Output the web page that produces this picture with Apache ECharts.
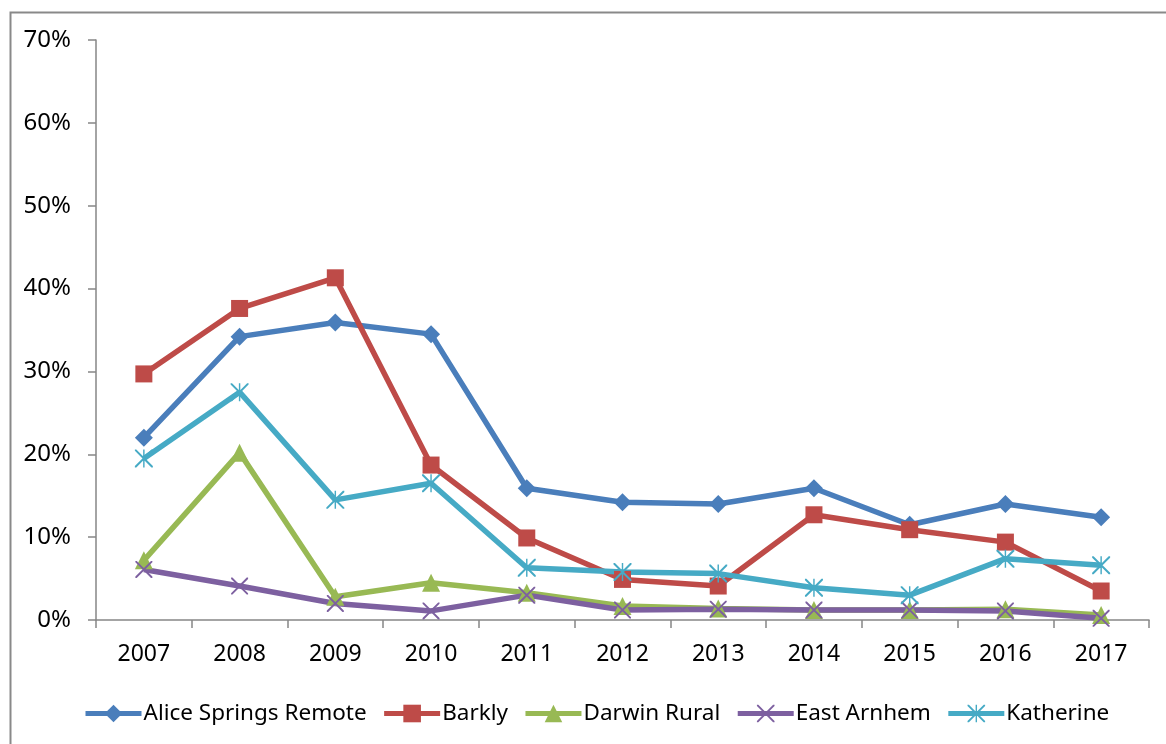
<!DOCTYPE html>
<html>
<head>
<meta charset="utf-8">
<script src="https://cdn.jsdelivr.net/npm/echarts@6/dist/echarts.min.js"></script>
<style>
html,body{margin:0;padding:0;background:#fff;}
#chart{width:1166px;height:744px;}
</style>
</head>
<body>
<div id="chart"></div>
<script>
var years = ['2007','2008','2009','2010','2011','2012','2013','2014','2015','2016','2017'];
var aliceSprings = [22.0, 34.2, 35.9, 34.5, 15.9, 14.2, 14.0, 15.9, 11.5, 14.0, 12.4];
var barkly       = [29.7, 37.6, 41.3, 18.7, 9.9, 4.9, 4.1, 12.7, 10.9, 9.4, 3.5];
var darwinRural  = [7.2, 20.2, 2.8, 4.5, 3.3, 1.7, 1.4, 1.2, 1.2, 1.3, 0.6];
var eastArnhem   = [6.1, 4.1, 2.0, 1.1, 3.0, 1.2, 1.3, 1.2, 1.2, 1.1, 0.2];
var katherine    = [19.5, 27.5, 14.5, 16.5, 6.3, 5.8, 5.6, 3.9, 3.0, 7.4, 6.6];
var yTicks = [0, 10, 20, 30, 40, 50, 60, 70];

var xPath = 'path://M0,0 L8,0 L100,92 L100,100 L92,100 L0,8 Z M100,0 L100,8 L8,100 L0,100 L0,92 L92,0 Z';
var starPath = 'path://M0,0 L8,0 L100,92 L100,100 L92,100 L0,8 Z M100,0 L100,8 L8,100 L0,100 L0,92 L92,0 Z M46,0 L54,0 L54,100 L46,100 Z';

var FONT = 'Noto Sans';
function mk(name, data, color, symbol, size) {
  return {
    name: name, type: 'line', data: data,
    symbol: symbol, symbolSize: size,
    lineStyle: {color: color, width: 5.5},
    itemStyle: {color: color},
    emphasis: {disabled: true},
    animation: false
  };
}

var chart = echarts.init(document.getElementById('chart'), null, {renderer: 'canvas'});
chart.setOption({
  backgroundColor: '#fff',
  animation: false,
  graphic: [{
    type: 'rect', left: 8, top: 10, z: -1,
    shape: {width: 1170, height: 750},
    style: {fill: 'none', stroke: '#898989', lineWidth: 2}
  }],
  grid: {left: 96, right: 17, top: 40, bottom: 124, containLabel: false},
  legend: {
    data: ['Alice Springs Remote', 'Barkly', 'Darwin Rural', 'East Arnhem', 'Katherine'],
    left: 78, top: 697,
    itemWidth: 56, itemHeight: 22, itemGap: 15,
    lineStyle: {width: 5},
    textStyle: {fontFamily: FONT, fontSize: 22.5, color: '#000', padding: [0,0,0,-3]}
  },
  xAxis: {
    type: 'category', data: years, boundaryGap: true,
    axisLine: {lineStyle: {color: '#868686', width: 1.5}},
    axisTick: {show: true, length: 8, inside: false, alignWithLabel: false, lineStyle: {color: '#868686', width: 1.5}},
    axisLabel: {fontFamily: FONT, fontSize: 23, color: '#000', margin: 23},
    splitLine: {show: false}
  },
  yAxis: {
    type: 'value', min: 0, max: 70, interval: 10,
    axisLine: {show: true, lineStyle: {color: '#868686', width: 1.5}},
    axisTick: {show: true, length: 8, lineStyle: {color: '#868686', width: 1.5}},
    axisLabel: {fontFamily: FONT, fontSize: 24, color: '#000', margin: 25,
      formatter: function(v){ return yTicks.indexOf(v) >= 0 ? v + '%' : ''; }},
    splitLine: {show: false}
  },
  series: [
    mk('Alice Springs Remote', aliceSprings, '#4A7EBB', 'diamond', 18),
    mk('Barkly', barkly, '#BE4B48', 'rect', 17),
    mk('Darwin Rural', darwinRural, '#98B954', 'triangle', 18),
    mk('East Arnhem', eastArnhem, '#7D60A0', xPath, 17),
    mk('Katherine', katherine, '#46AAC5', starPath, 18)
  ]
});
</script>
</body>
</html>
